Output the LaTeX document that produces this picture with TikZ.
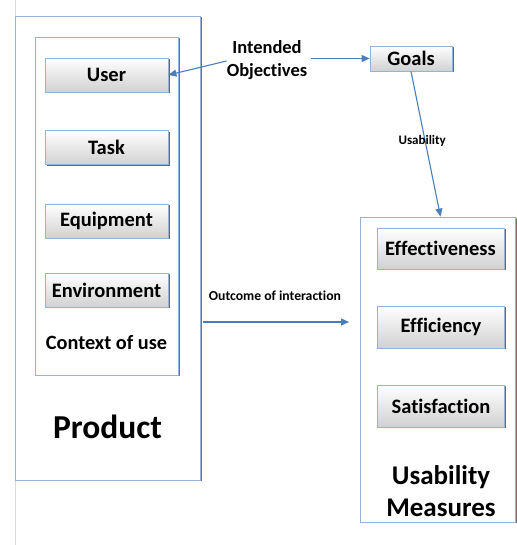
\documentclass[tikz,border=0pt]{standalone}
\usepackage{fontspec}
\setmainfont{Carlito}[Ligatures=NoCommon]
\usetikzlibrary{arrows.meta,shadows}
\definecolor{arrowblue}{HTML}{4A7EBB}
\definecolor{edgeblue}{HTML}{95B3D7}
\tikzset{
  x=1pt,y=-1pt,
  bigbox/.style={draw=edgeblue,line width=0.8pt,fill=white,
    drop shadow={shadow xshift=1.6pt,shadow yshift=-1.2pt,fill=black!55,opacity=1},
    minimum width=#1},
  itembox/.style={draw=edgeblue,line width=0.8pt,top color=white,bottom color=black!18,
    drop shadow={shadow xshift=1.6pt,shadow yshift=-1.2pt,fill=black!60,opacity=1},
    font=\bfseries\fontsize{20.5}{24}\selectfont,inner sep=0pt},
  conn/.style={draw=arrowblue,line width=1.1pt,-{Triangle[length=8pt,width=7pt]}},
  lbl/.style={font=\bfseries\fontsize{18.5}{22}\selectfont,align=center,inner sep=0pt},
}
\begin{document}
\begin{tikzpicture}
\useasboundingbox (0,0) rectangle (516,545);
\draw[black!15,line width=0.6pt] (15,0) -- (15,545);
% product box
\node[bigbox=185pt,minimum height=464pt] (product) at (107.5,248) {};
\node[bigbox=143pt,minimum height=338pt] (context) at (106.5,206) {};
\node[itembox,minimum width=123pt,minimum height=34pt] (user) at (106.5,75) {User};
\node[itembox,minimum width=123pt,minimum height=34pt] (task) at (106.5,147.5) {Task};
\node[itembox,minimum width=123pt,minimum height=34pt] (equip) at (106.5,221) {Equipment};
\node[itembox,minimum width=123pt,minimum height=34pt] (env) at (106.5,290) {Environment};
\node[lbl,font=\bfseries\fontsize{20.3}{24}\selectfont] (ctxlbl) at (106.5,343) {Context of use};
\node[lbl,font=\bfseries\fontsize{33.5}{38}\selectfont] (prodlbl) at (107.5,427) {Product};
% measures box
\node[bigbox=155pt,minimum height=305pt] (measures) at (437.5,369.5) {};
\node[itembox,minimum width=127pt,minimum height=41pt] (eff) at (440.5,248.5) {Effectiveness};
\node[itembox,minimum width=127pt,minimum height=42pt] (effi) at (441,327) {Efficiency};
\node[itembox,minimum width=127pt,minimum height=42pt] (sat) at (441,406) {Satisfaction};
\node[lbl,font=\bfseries\fontsize{27}{32}\selectfont] (umlbl) at (441,491) {Usability\\Measures};
% goals
\node[itembox,minimum width=82pt,minimum height=25pt] (goals) at (411,58.5) {Goals};
\node[lbl,font=\bfseries\fontsize{18.5}{23}\selectfont] (io) at (267,60) {Intended\\Objectives};
% connectors
\draw[conn] ([xshift=4pt]io.east |- goals.west) -- (goals.west);
\draw[conn] ([yshift=-1pt]io.west) -- (user.east);
\draw[conn] (goals.south) -- node[pos=0.48,xshift=-3pt,font=\bfseries\fontsize{13}{15}\selectfont,inner sep=0pt] {Usability} (eff.north |- measures.north);
\coordinate (o1) at (203,322);
\coordinate (o2) at (349,322);
\draw[conn] (o1) -- (o2);
\node[lbl,font=\bfseries\fontsize{13.7}{16}\selectfont] (outlbl) at (275,296) {Outcome of interaction};
\end{tikzpicture}
\end{document}
